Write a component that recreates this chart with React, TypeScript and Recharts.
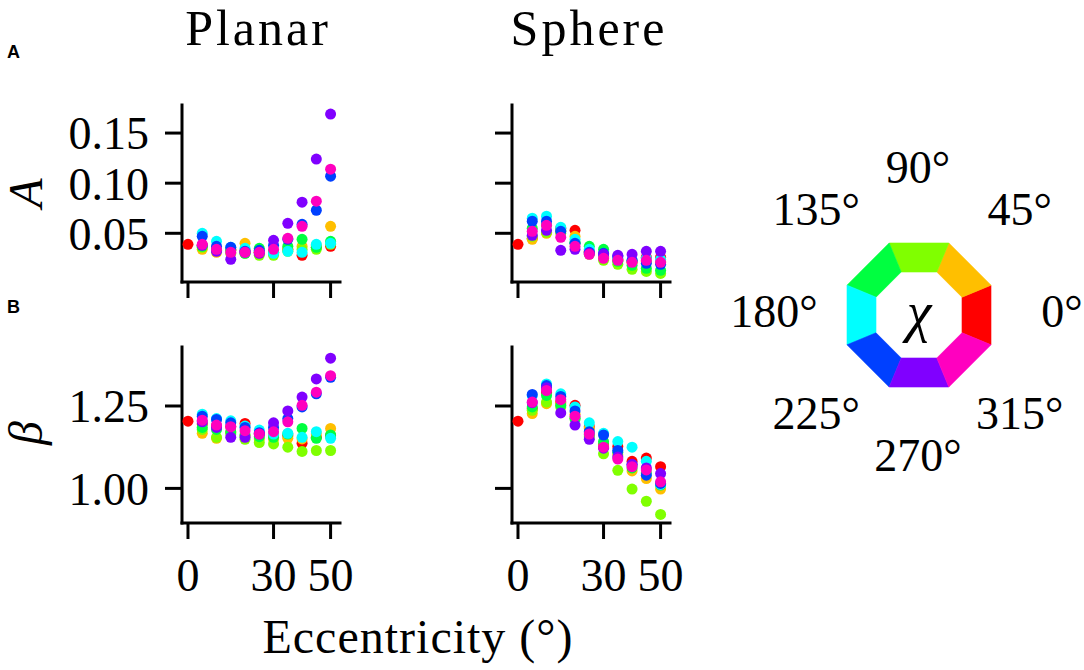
import React from 'react';
import { ScatterChart, Scatter, XAxis, YAxis } from 'recharts';

// Eccentricity (deg) sampled for every χ series; χ = 0 also has a point at 0
const ECC = [5, 10, 15, 20, 25, 30, 35, 40, 45, 50];
const CHI = [0, 45, 90, 135, 180, 225, 270, 315];
const CHI_LABELS = ['0°', '45°', '90°', '135°', '180°', '225°', '270°', '315°'];
const CHI_COLORS = ['#ff0000', '#ffbf00', '#80ff00', '#00ff40', '#00ffff', '#0040ff', '#8000ff', '#ff00bf'];

const X_TICKS = [0, 30, 50];
const A_TICKS = [0.05, 0.1, 0.15];
const B_TICKS = [1.0, 1.25];
const ORIGIN_A = 0.039;
const ORIGIN_B = 1.204;

// Parameter A, planar stimulus (rows: χ = 0,45,...,315)
const PLANAR_A = [
  [0.038, 0.033, 0.034, 0.033, 0.031, 0.031, 0.034, 0.028, 0.036, 0.037],
  [0.034, 0.031, 0.033, 0.040, 0.031, 0.031, 0.034, 0.037, 0.038, 0.057],
  [0.036, 0.033, 0.030, 0.030, 0.028, 0.028, 0.032, 0.034, 0.034, 0.039],
  [0.037, 0.033, 0.033, 0.030, 0.035, 0.031, 0.037, 0.044, 0.036, 0.042],
  [0.050, 0.042, 0.036, 0.035, 0.032, 0.030, 0.032, 0.031, 0.039, 0.040],
  [0.047, 0.037, 0.036, 0.032, 0.033, 0.038, 0.044, 0.059, 0.073, 0.107],
  [0.038, 0.032, 0.024, 0.031, 0.030, 0.043, 0.060, 0.081, 0.124, 0.169],
  [0.039, 0.034, 0.031, 0.031, 0.031, 0.034, 0.045, 0.057, 0.082, 0.114],
];

// Parameter A, sphere stimulus
const SPHERE_A = [
  [0.045, 0.051, 0.055, 0.053, 0.032, 0.027, 0.024, 0.022, 0.026, 0.026],
  [0.044, 0.050, 0.052, 0.047, 0.031, 0.026, 0.023, 0.021, 0.022, 0.022],
  [0.047, 0.051, 0.050, 0.040, 0.029, 0.023, 0.019, 0.014, 0.012, 0.010],
  [0.055, 0.058, 0.053, 0.041, 0.037, 0.034, 0.022, 0.018, 0.015, 0.013],
  [0.065, 0.067, 0.056, 0.044, 0.034, 0.029, 0.025, 0.023, 0.025, 0.024],
  [0.062, 0.062, 0.052, 0.040, 0.031, 0.030, 0.027, 0.023, 0.020, 0.019],
  [0.048, 0.053, 0.033, 0.034, 0.030, 0.029, 0.028, 0.029, 0.032, 0.032],
  [0.052, 0.058, 0.046, 0.037, 0.029, 0.025, 0.023, 0.021, 0.023, 0.021],
];

// Parameter β, planar stimulus
const PLANAR_B = [
  [1.195, 1.190, 1.187, 1.197, 1.165, 1.160, 1.160, 1.137, 1.155, 1.160],
  [1.167, 1.152, 1.170, 1.160, 1.150, 1.150, 1.152, 1.150, 1.165, 1.182],
  [1.179, 1.155, 1.165, 1.149, 1.139, 1.135, 1.125, 1.112, 1.115, 1.115],
  [1.185, 1.179, 1.172, 1.162, 1.157, 1.155, 1.165, 1.182, 1.152, 1.162],
  [1.225, 1.212, 1.205, 1.189, 1.177, 1.165, 1.167, 1.155, 1.172, 1.152],
  [1.219, 1.209, 1.199, 1.185, 1.169, 1.185, 1.212, 1.247, 1.287, 1.337],
  [1.202, 1.185, 1.155, 1.155, 1.165, 1.199, 1.235, 1.277, 1.332, 1.395],
  [1.207, 1.192, 1.187, 1.175, 1.165, 1.172, 1.202, 1.252, 1.292, 1.342],
];

// Parameter β, sphere stimulus
const SPHERE_B = [
  [1.242, 1.292, 1.262, 1.252, 1.187, 1.132, 1.127, 1.082, 1.092, 1.066],
  [1.227, 1.257, 1.257, 1.225, 1.182, 1.127, 1.102, 1.053, 1.030, 0.998],
  [1.237, 1.262, 1.247, 1.212, 1.157, 1.105, 1.055, 0.998, 0.961, 0.921],
  [1.247, 1.282, 1.252, 1.212, 1.162, 1.142, 1.110, 1.062, 1.047, 1.010],
  [1.282, 1.317, 1.287, 1.247, 1.199, 1.167, 1.142, 1.125, 1.082, 1.012],
  [1.285, 1.312, 1.279, 1.235, 1.172, 1.162, 1.115, 1.072, 1.040, 1.015],
  [1.260, 1.305, 1.229, 1.192, 1.149, 1.122, 1.095, 1.073, 1.062, 1.045],
  [1.262, 1.297, 1.269, 1.219, 1.165, 1.125, 1.089, 1.066, 1.056, 1.020],
];

const SERIF = '"Liberation Serif", "Times New Roman", serif';
const SANS = '"Liberation Sans", Arial, sans-serif';
const X_DOMAIN: [number, number] = [-2.1, 53.3];
const A_DOMAIN: [number, number] = [0.0014, 0.178];
const B_DOMAIN: [number, number] = [0.895, 1.429];

const AXIS_LINE = { stroke: '#000', strokeWidth: 3, strokeLinecap: 'square' as const };
const TICK_LINE = { stroke: '#000', strokeWidth: 3 };
const TICK_TEXT = { fontSize: 46, fontFamily: SERIF, fill: '#000' };
const noTick = () => <g />;

const makeDot = (color: string) => (props: any) => (
  <circle cx={props.cx} cy={props.cy} r={5.5} fill={color} />
);

type PanelProps = {
  box: [number, number, number, number];
  yDomain: [number, number];
  yTicks: number[];
  series: number[][];
  origin: number;
  showY: boolean;
  showX: boolean;
};

function Panel({ box, yDomain, yTicks, series, origin, showY, showX }: PanelProps) {
  const [l, t, r, b] = box;
  const padL = 150, padT = 10, padR = 20, padB = 100;
  const w = r - l + padL + padR;
  const h = b - t + padT + padB;
  return (
    <div style={{ position: 'absolute', left: l - padL, top: t - padT, width: w, height: h }}>
      <ScatterChart width={w} height={h} margin={{ top: padT, right: padR, bottom: 0, left: 0 }}>
        <XAxis
          type="number"
          dataKey="x"
          domain={X_DOMAIN}
          ticks={X_TICKS}
          interval={0}
          allowDataOverflow
          height={padB}
          tickSize={16}
          tickMargin={19}
          axisLine={AXIS_LINE}
          tickLine={TICK_LINE}
          tick={showX ? TICK_TEXT : noTick}
        />
        <YAxis
          type="number"
          dataKey="y"
          domain={yDomain}
          ticks={yTicks}
          interval={0}
          allowDataOverflow
          width={padL}
          tickSize={17}
          tickMargin={16}
          axisLine={AXIS_LINE}
          tickLine={TICK_LINE}
          tick={showY ? TICK_TEXT : noTick}
          tickFormatter={(v: number) => v.toFixed(2)}
        />
        {series.map((vals, i) => {
          const pts = ECC.map((x, j) => ({ x, y: vals[j] }));
          const data = i === 0 ? [{ x: 0, y: origin }, ...pts] : pts;
          return (
            <Scatter
              key={CHI[i]}
              name={CHI_LABELS[i]}
              data={data}
              fill={CHI_COLORS[i]}
              shape={makeDot(CHI_COLORS[i])}
              isAnimationActive={false}
            />
          );
        })}
      </ScatterChart>
    </div>
  );
}

function ChiLegend() {
  const cx = 919, cy = 315;
  const R = 72 / Math.cos(Math.PI / 8);
  const r = 43 / Math.cos(Math.PI / 8);
  const pt = (rad: number, deg: number) => {
    const a = (deg * Math.PI) / 180;
    return `${(cx + rad * Math.cos(a)).toFixed(2)},${(cy - rad * Math.sin(a)).toFixed(2)}`;
  };
  const lcx = 918, lcy = 311, lr = 144;
  return (
    <g>
      {CHI.map((h, i) => (
        <polygon
          key={h}
          points={[pt(R, h - 22.5), pt(R, h + 22.5), pt(r, h + 22.5), pt(r, h - 22.5)].join(' ')}
          fill={CHI_COLORS[i]}
          stroke={CHI_COLORS[i]}
          strokeWidth={0.6}
        />
      ))}
      <text x={cx} y={331} textAnchor="middle" fontSize={56} fontStyle="italic" fontFamily={SERIF}>χ</text>
      {CHI.map((h, i) => {
        const a = (h * Math.PI) / 180;
        return (
          <text
            key={h}
            x={lcx + lr * Math.cos(a)}
            y={lcy - lr * Math.sin(a) + 16}
            textAnchor="middle"
            fontSize={46}
            fontFamily={SERIF}
          >
            {CHI_LABELS[i]}
          </text>
        );
      })}
    </g>
  );
}

export default function App() {
  return (
    <div style={{ position: 'absolute', left: 0, top: 0, width: 1084, height: 670, background: '#fff', overflow: 'hidden' }}>
      <svg width={1084} height={670} style={{ position: 'absolute', left: 0, top: 0 }}>
        <text x={258} y={45} textAnchor="middle" fontSize={50} letterSpacing={3} fontFamily={SERIF}>Planar</text>
        <text x={589} y={45} textAnchor="middle" fontSize={50} letterSpacing={3} fontFamily={SERIF}>Sphere</text>
        <text x={7} y={58} fontSize={18} fontWeight="bold" fontFamily={SANS}>A</text>
        <text x={7} y={313} fontSize={18} fontWeight="bold" fontFamily={SANS}>B</text>
        <text transform="translate(42,193) rotate(-90)" textAnchor="middle" fontSize={48} fontStyle="italic" fontFamily={SERIF}>A</text>
        <text transform="translate(42,433) rotate(-90)" textAnchor="middle" fontSize={48} fontStyle="italic" fontFamily={SERIF}>β</text>
        <text x={418} y={653} textAnchor="middle" fontSize={48} letterSpacing={1} fontFamily={SERIF}>Eccentricity (°)</text>
        <ChiLegend />
      </svg>
      <Panel box={[182, 105, 340, 282]} yDomain={A_DOMAIN} yTicks={A_TICKS} series={PLANAR_A} origin={ORIGIN_A} showY showX={false} />
      <Panel box={[512, 105, 670, 282]} yDomain={A_DOMAIN} yTicks={A_TICKS} series={SPHERE_A} origin={ORIGIN_A} showY={false} showX={false} />
      <Panel box={[182, 347, 340, 523]} yDomain={B_DOMAIN} yTicks={B_TICKS} series={PLANAR_B} origin={ORIGIN_B} showY showX />
      <Panel box={[512, 347, 670, 523]} yDomain={B_DOMAIN} yTicks={B_TICKS} series={SPHERE_B} origin={ORIGIN_B} showY={false} showX />
    </div>
  );
}
